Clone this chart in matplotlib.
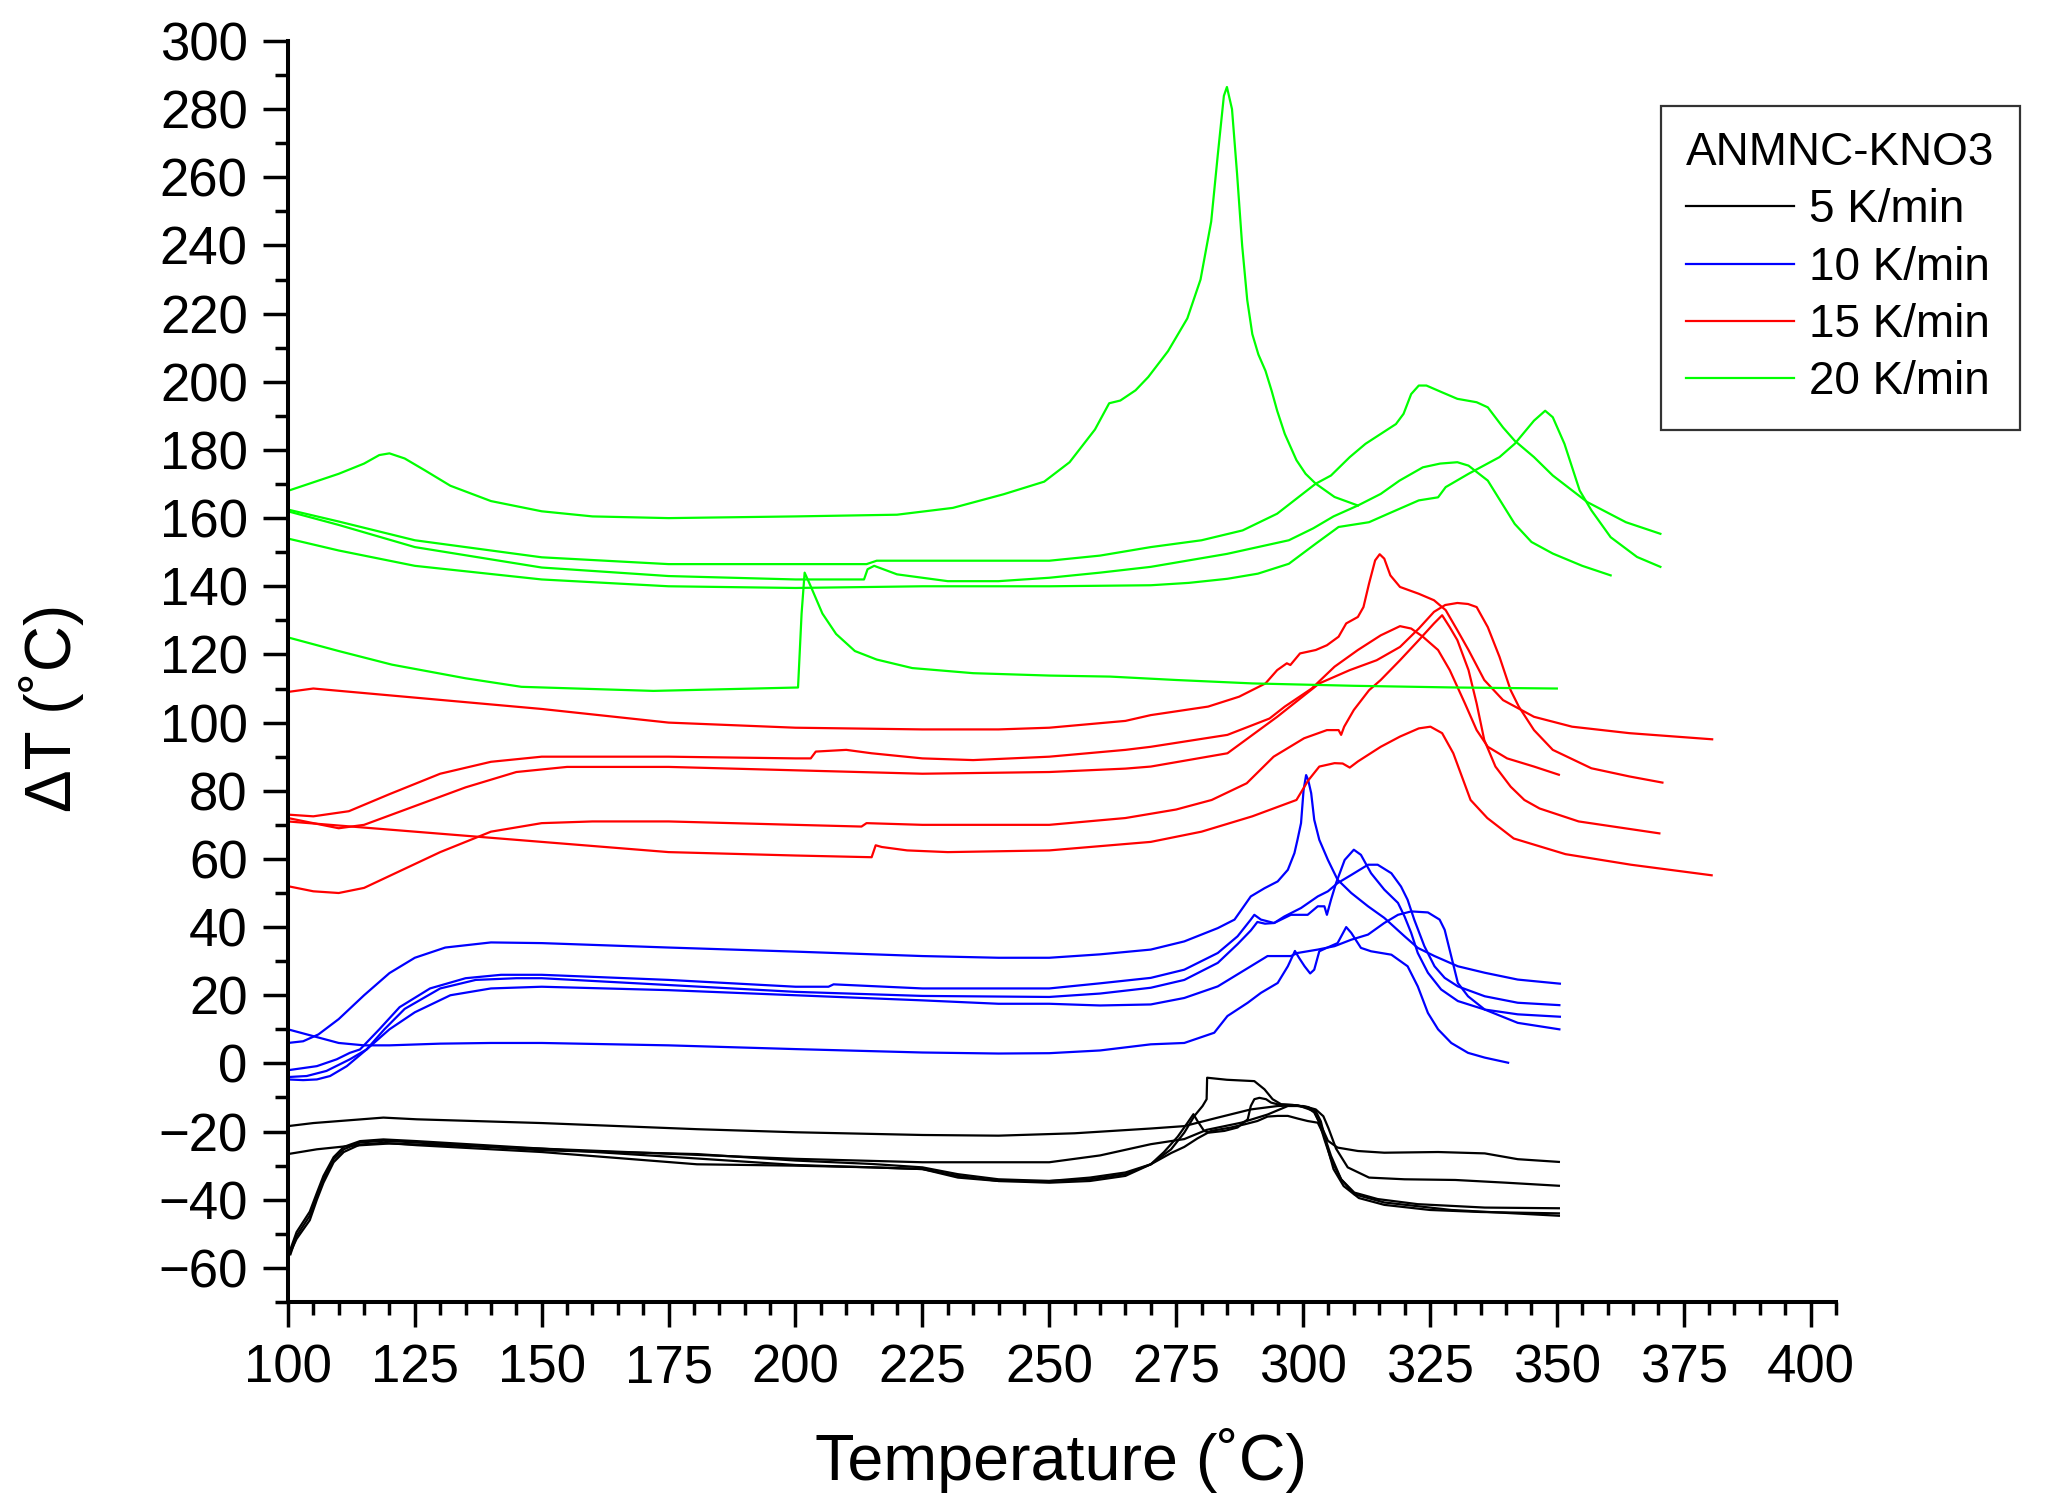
import matplotlib
matplotlib.use("Agg")
import matplotlib.pyplot as plt
from matplotlib.ticker import MultipleLocator

plt.rcParams['font.family'] = ['Liberation Sans', 'DejaVu Sans']

# ---- 20 K/min (green) ----
g1_t = [100, 105, 110, 115, 118, 120, 123, 127, 132, 140, 150, 160, 175, 200, 220, 231, 241, 249, 254,
        259, 261.8, 264, 267, 269.5, 273.4, 277.2, 279.8, 281.9, 283.2, 284.4, 285, 286, 287, 288, 289,
        290, 291.2, 292.6, 293.8, 294.9, 296.4, 298.7, 300.5, 302.5, 306.2, 310.8]
g1_v = [168, 170.5, 173, 176, 178.5, 179, 177.5, 174, 169.5, 165, 162, 160.5, 160, 160.5, 161, 163, 167,
        170.7, 176.4, 186, 193.7, 194.5, 197.5, 201.4, 209, 218.6, 230, 247, 266.6, 283.9, 286.5, 280,
        261, 240, 224, 214, 208, 203.2, 197.4, 191.5, 184.7, 177, 173, 170.1, 166.2, 163.7]

g2_t = [100, 110, 125, 150, 175, 200, 214, 216, 250, 260, 270, 280, 288.1, 294.9, 302.5, 305.5, 309.2,
        312.3, 315.3, 318.3, 319.8, 321.3, 322.8, 324.3, 327.4, 330.4, 334.2, 336.4, 339.4, 341.7, 345.5,
        349.2, 356, 363.6, 370.4]
g2_v = [162.5, 159, 153.5, 148.5, 146.5, 146.5, 146.5, 147.5, 147.5, 149, 151.5, 153.5, 156.4, 161.3,
        170.1, 172.5, 177.9, 181.8, 184.7, 187.6, 190.6, 196.4, 198.9, 198.9, 196.9, 195, 194, 192.5,
        186.6, 182.7, 177.9, 172.5, 164.7, 158.8, 155.4]

g3_t = [100, 110, 125, 150, 175, 200, 213.5, 214.2, 215.5, 220, 230, 240, 250, 260, 270, 285, 297.2,
        302, 306, 310.8, 315.3, 319, 323.6, 327, 330.4, 332.6, 336.4, 341.7, 345, 349.2, 355, 360.6]
g3_v = [162, 158, 151.5, 145.5, 143, 142, 142, 145, 146, 143.5, 141.5, 141.5, 142.5, 144, 145.7, 149.5,
        153.5, 157, 160.5, 163.7, 167.1, 171, 174.9, 176, 176.4, 175.4, 171, 158.3, 153, 149.6, 146, 143.2]

g4_t = [100, 110, 125, 150, 175, 200, 225, 250, 270, 277.5, 285.1, 291.1, 297.2, 302.5, 307, 313, 316.8,
        322.8, 326.6, 328.1, 332.6, 338.7, 341.7, 345.5, 347.7, 349.2, 351.5, 354.5, 356.8, 360.6, 365.8,
        370.4]
g4_v = [154, 150.5, 146, 142, 140, 139.5, 140, 140, 140.3, 141, 142.2, 143.7, 146.6, 152.5, 157.4, 158.8,
        161.3, 165.2, 166.1, 169.1, 173, 177.9, 181.8, 188.6, 191.5, 189.6, 181.8, 168.1, 162.3, 154.4,
        148.6, 145.7]

g5_t = [100, 110, 120.5, 135, 146, 172, 200.5, 201.2, 201.8, 203, 205.3, 208, 211.7, 216, 223, 235, 250,
        262, 275, 290, 310, 330, 350]
g5_v = [125, 121, 117, 113, 110.5, 109.3, 110.3, 132, 144, 140, 132, 126, 121, 118.5, 116, 114.5, 113.8,
        113.5, 112.5, 111.5, 110.8, 110.3, 110]

# ---- 15 K/min (red) ----
r1_t = [100, 105, 120, 150, 175, 200, 225, 240, 250, 265, 270, 281.3, 287.4, 292.6, 294.9, 296.8, 297.5,
        299.4, 302.5, 304.7, 307, 308.5, 310.8, 311.9, 313, 314.2, 315.1, 316, 317.2, 319.1, 322.8, 325.8,
        328.1, 330.4, 332.6, 335.7, 339.4, 345.5, 353, 364.3, 380.6]
r1_v = [109, 110, 108, 104, 100, 98.5, 98, 98, 98.5, 100.5, 102.2, 104.7, 107.6, 111.5, 115.4, 117.4,
        116.9, 120.3, 121.3, 122.7, 125.2, 129.1, 131, 133.9, 140.8, 147.6, 149.4, 148.1, 143.2, 139.8,
        137.8, 135.9, 133, 127.1, 121.3, 112.5, 106.6, 101.7, 98.8, 96.9, 95.1]

r2_t = [100, 105, 112, 120, 130, 140, 150, 175, 200, 203, 204, 210, 215, 225, 235, 250, 265, 270, 285.1,
        293.4, 296.4, 301.7, 306.2, 310.8, 315.3, 319.1, 321.3, 323.6, 326.6, 328.9, 331.9, 334.2, 336.4,
        340.2, 345.5, 350.4]
r2_v = [73, 72.5, 74, 79, 85, 88.5, 90, 90, 89.5, 89.5, 91.5, 92, 91, 89.5, 89, 90, 92, 92.9, 96.4, 101.2,
        104.7, 110, 116.4, 121.3, 125.6, 128.3, 127.6, 125.2, 121.3, 115.4, 105.6, 97.8, 92.9, 89.5, 87.1,
        84.7]

r3_t = [100, 110, 115, 125, 135, 145, 155, 175, 200, 225, 250, 265, 270, 285.1, 294.9, 303.2, 309.2,
        314.5, 319.1, 322.8, 325.8, 328, 330.4, 332.5, 334.2, 336.4, 338.7, 340.9, 342.5, 345.5, 349.2,
        356.8, 364.3, 370.8]
r3_v = [72, 69, 70, 75.5, 81, 85.5, 87, 87, 86, 85, 85.5, 86.5, 87.1, 91, 101.7, 111.5, 115.4, 118.3,
        122.2, 127.6, 132.5, 134.5, 135.1, 134.8, 133.9, 128, 119.3, 109.5, 104.7, 97.8, 92, 86.6, 84.2,
        82.4]

r4_t = [100, 125, 150, 175, 200, 215, 215.8, 217, 222, 230, 250, 270, 280, 290, 298.7, 301, 303.2, 306.2,
        307.8, 309.2, 310.8, 315.3, 319.1, 322.8, 325.1, 327.4, 329.6, 333, 336.3, 341.5, 351.7, 364.6,
        380.5]
r4_v = [71, 68, 65, 62, 61, 60.5, 64, 63.5, 62.5, 62, 62.5, 65, 68, 72.5, 77.3, 83, 87.1, 88.1, 88, 86.8,
        88.6, 92.9, 95.9, 98.3, 98.8, 96.9, 91, 77.3, 72, 66, 61.4, 58.3, 55.2]

r5_t = [100, 105, 110, 115, 120, 130, 140, 150, 160, 175, 200, 213, 214, 225, 250, 265, 275, 282, 288.9,
        294.2, 300.2, 304.7, 307, 307.5, 308.1, 310, 313, 315.3, 319.1, 322.8, 325.8, 327.4, 328.9, 330.4,
        332.6, 334.2, 335.7, 337.9, 340.9, 343.6, 346.6, 354.3, 370.2]
r5_v = [52, 50.5, 50, 51.5, 55, 62, 68, 70.5, 71, 71, 70, 69.5, 70.5, 70, 70, 72, 74.5, 77.3, 82.2, 90,
        95.4, 97.8, 97.8, 96.4, 98.8, 103.7, 109.5, 112.5, 118.3, 124.2, 129.1, 131.5, 128, 124.2, 115.4,
        105.6, 94.9, 87.1, 81.2, 77.3, 74.8, 71, 67.5]

# ---- 10 K/min (blue) ----
b1_t = [100, 105, 110, 115, 120, 130, 140, 150, 175, 200, 225, 240, 250, 260, 270, 276.6, 282.5, 285.1,
        289.1, 291.7, 295, 297, 298.4, 299.2, 300.3, 301.4, 302.2, 303.2, 304.5, 306.8, 308.5, 309.5, 311.4,
        313.4, 317.4, 320.6, 322.6, 324.6, 326.6, 329.2, 332.5, 335.8, 340.4]
b1_v = [10, 8, 6, 5.3, 5.3, 5.8, 6, 6, 5.3, 4.2, 3.2, 2.9, 3, 3.8, 5.6, 6, 9, 13.9, 17.8, 20.7, 23.6, 28.5,
        33, 31, 28.5, 26.4, 27.5, 32.9, 33.8, 35.3, 40, 38.3, 33.9, 32.9, 31.9, 28.5, 22.6, 14.8, 10, 6,
        3.1, 1.7, 0.2]

b2_t = [100, 103, 106, 110, 115, 120, 125, 131, 140, 150, 175, 200, 225, 240, 250, 260, 270, 276.6, 283.2,
        286.5, 289.7, 292.4, 295, 297, 298.3, 298.9, 299.6, 300.1, 300.6, 301, 301.6, 302.2, 303.2, 304.9,
        306.8, 309.5, 312.8, 316, 320, 322.6, 325.9, 330.5, 335.8, 342.3, 350.6]
b2_v = [6, 6.5, 8.5, 13, 20, 26.5, 31, 34, 35.5, 35.3, 34, 32.8, 31.5, 31, 31, 32, 33.4, 35.8, 39.7, 42.2,
        49, 51.4, 53.4, 56.8, 61.7, 65.6, 70.5, 80.2, 84.6, 83.2, 79.3, 71.5, 65.6, 59.7, 53.9, 50, 46.1,
        42.7, 37.3, 33.9, 31.5, 28.5, 26.6, 24.6, 23.4]

b3_t = [100, 105.7, 109.6, 112.2, 114.2, 118, 122, 128, 135, 142, 150, 175, 200, 206.5, 207.5, 225, 250,
        260, 270, 276.6, 283.2, 287.1, 289.7, 290.4, 291.7, 294.3, 296.3, 299.6, 302.9, 304.9, 306.8,
        309.5, 312.8, 314.7, 317.4, 319.3, 320.6, 321.9, 323.9, 325.9, 327.9, 330.5, 335.8, 342.3, 350.5]
b3_v = [-2, -0.8, 1.2, 3.1, 4.1, 10, 16.5, 22, 25, 26, 26, 24.5, 22.5, 22.5, 23.2, 22, 22, 23.5, 25.1,
        27.5, 32.4, 37.3, 42.2, 43.6, 42.2, 41.2, 43.1, 45.6, 49, 50.5, 52.9, 55.3, 58.3, 58.3, 55.8, 51.9,
        48, 42.2, 34.4, 28.5, 25.1, 22.6, 19.7, 17.8, 17.1]

b4_t = [100, 103.7, 107.6, 112.2, 115.5, 119, 123, 130, 137, 145, 150, 175, 200, 225, 250, 260, 270,
        276.6, 283.2, 287.1, 289.7, 291, 292.5, 294.3, 297.6, 300.9, 302.9, 304.2, 304.7, 305.5, 306.5,
        308.2, 310, 311.4, 313.4, 316, 318.7, 320, 321.3, 322.6, 324.6, 327.2, 330.5, 335.8, 342.3, 350.6]
b4_v = [-4, -3.7, -2.2, 1.2, 4.1, 10, 16, 22, 24.5, 25, 25, 23, 21, 19.8, 19.5, 20.5, 22.2, 24.5, 29.5,
        35, 39, 41.5, 41, 41.2, 43.6, 43.6, 46.1, 46.1, 43.6, 48, 52.9, 59.7, 62.7, 61.2, 55.8, 51, 47.1,
        43.1, 38.3, 32.4, 26.6, 21.7, 18.3, 15.8, 14.4, 13.7]

b5_t = [100, 103, 105.7, 108.3, 111.6, 115.5, 120, 125, 132, 140, 150, 175, 200, 225, 240, 250, 260, 270,
        276.6, 283.2, 289.7, 293, 297.6, 298.9, 302.9, 306.2, 309.5, 312.8, 316, 318.7, 321.3, 324.6,
        326.9, 327.9, 329.2, 330.5, 332.5, 335.8, 342.3, 350.5]
b5_v = [-4.7, -4.9, -4.7, -3.7, -0.8, 4.1, 10, 15, 20, 22, 22.5, 21.5, 20, 18.5, 17.5, 17.5, 17, 17.3,
        19.2, 22.6, 28.5, 31.5, 31.5, 32.4, 33.4, 34.4, 36.3, 37.8, 41.2, 43.6, 44.6, 44.3, 42.2, 39.2,
        31.4, 23.6, 19.7, 15.8, 11.9, 10]

# ---- 5 K/min (black) ----
k1_t = [100, 105, 118.8, 125.4, 150, 180.6, 200, 225, 240, 255, 270, 276.6, 283.2, 289.7, 295, 298.3,
        300.9, 302.2, 303.6, 304.9, 306.8, 310.8, 316, 326.6, 335.8, 342.3, 350.4]
k1_v = [-18.4, -17.5, -15.9, -16.4, -17.5, -19.3, -20.2, -21, -21.2, -20.5, -19.1, -18.4, -15.9, -13.5,
        -12.5, -12.3, -13, -14.4, -18.4, -22.7, -24.7, -25.7, -26.2, -26, -26.4, -28.1, -28.9]

k2_t = [100, 105.7, 112.2, 120, 150, 175, 200, 225, 250, 260, 270, 276.6, 281, 287.8, 293, 297, 300,
        302.5, 304, 305, 306.5, 308.8, 313, 320, 330, 340, 350.4]
k2_v = [-26.6, -25.2, -24.2, -23.5, -25, -26.5, -28, -29, -29, -27, -23.7, -22.2, -19.5, -17.4, -15,
        -12.5, -12.5, -13.5, -15.5, -19, -25, -30.5, -33.5, -34, -34.2, -35, -35.9]

k3_t = [100.5, 101.7, 104.3, 105.7, 107, 109, 111, 114.2, 118.8, 125.4, 150, 180.6, 200, 215, 225, 232,
        240, 250, 258, 265, 270, 274, 276.6, 278.6, 280.2, 281, 281.1, 285, 290.4, 292.4, 294, 295.7, 299,
        302.2, 303.2, 304.2, 305.5, 307.5, 310.1, 314.7, 322.6, 335.8, 350.4]
k3_v = [-56, -50.6, -44.7, -38.9, -34, -28.1, -25.2, -23.2, -22.7, -23.2, -25.5, -26.6, -28.5, -29.5,
        -30.5, -32.5, -34, -34.5, -34, -32.5, -29.6, -25.2, -20.3, -15.4, -12.5, -10.5, -4.2, -4.8, -5.2,
        -7.6, -10.5, -12, -12.3, -14, -17.4, -22.3, -28.1, -34, -37.9, -39.8, -41.3, -42.3, -42.5]

k4_t = [100.5, 101.7, 104.3, 105.7, 107, 109, 111, 114.2, 118.8, 125.4, 150, 180.6, 200, 215, 225, 232,
        240, 250, 258, 265, 270, 272.6, 275.3, 277.2, 278.4, 279.2, 280.5, 281.5, 284.5, 287.1, 289.1,
        289.7, 290.4, 291.4, 292.7, 293.7, 295, 298, 301, 302.5, 303.5, 304.5, 306, 308, 311, 316, 325,
        335, 350.4]
k4_v = [-54.5, -49.5, -43.5, -38, -33, -27.5, -24.5, -22.8, -22.3, -22.8, -25, -27.9, -29.8, -30.5, -31,
        -33, -34.5, -35, -34.5, -33, -29.6, -26, -21.5, -17.5, -14.9, -16.9, -19.8, -20.3, -19.8, -18.8,
        -16.4, -12.5, -10.5, -10.1, -10.5, -11.5, -12, -12.2, -12.8, -14, -17, -23, -31, -36, -39.5,
        -41.5, -43, -43.6, -44]

k5_t = [100, 101.7, 104.3, 105.7, 107, 109, 111, 114.2, 118.8, 125.4, 150, 180.6, 200, 215, 225, 232,
        240, 250, 258, 265, 270, 274, 276.6, 279.2, 281.9, 285.8, 288.4, 291, 293, 295, 297, 299, 300.9,
        302.9, 304.2, 305.5, 307.5, 310.1, 316, 329.2, 350.4]
k5_v = [-57, -51.5, -46, -40, -35, -29, -26, -23.8, -23.3, -24, -26, -29.6, -30, -30.5, -31, -33.5,
        -34.5, -34.5, -33.5, -32, -29.6, -26.3, -24.5, -22, -19.8, -18.8, -17.9, -16.9, -15.6, -15.4,
        -15.4, -16.2, -16.9, -17.4, -21.3, -27.1, -34, -38.4, -40.8, -43, -44.7]

groups = [
    ("5 K/min", "black", [(k1_t, k1_v), (k2_t, k2_v), (k3_t, k3_v), (k4_t, k4_v), (k5_t, k5_v)]),
    ("10 K/min", "#0000ff", [(b1_t, b1_v), (b2_t, b2_v), (b3_t, b3_v), (b4_t, b4_v), (b5_t, b5_v)]),
    ("15 K/min", "#ff0000", [(r1_t, r1_v), (r2_t, r2_v), (r3_t, r3_v), (r4_t, r4_v), (r5_t, r5_v)]),
    ("20 K/min", "#00ff00", [(g1_t, g1_v), (g2_t, g2_v), (g3_t, g3_v), (g4_t, g4_v), (g5_t, g5_v)]),
]

fig = plt.figure(figsize=(20.45, 15.12), dpi=100)
ax = fig.add_axes([0.1408, 0.1389, 0.7570, 0.8340])

for name, col, curves in groups:
    for i, (t, v) in enumerate(curves):
        ax.plot(t, v, color=col, lw=1.6, label=name if i == 0 else "_nolegend_")

ax.set_xlim(100, 405)
ax.set_ylim(-70, 300)
ax.set_xticks(range(100, 401, 25))
ax.set_yticks(range(-60, 301, 20))
ax.xaxis.set_minor_locator(MultipleLocator(5))
ax.yaxis.set_minor_locator(MultipleLocator(10))

for s in ["top", "right"]:
    ax.spines[s].set_visible(False)
for s in ["left", "bottom"]:
    ax.spines[s].set_linewidth(2.9)

ax.tick_params(which="major", direction="out", length=18, width=2.5, labelsize=38)
ax.tick_params(which="minor", direction="out", length=9.4, width=2.5)
ax.tick_params(axis="x", which="major", pad=12)
ax.tick_params(axis="y", which="major", pad=11)

fig.text(0.519, 0.0212, "Temperature (˚C)", fontsize=46.5, ha="center", va="baseline")
fig.text(0.0252, 0.5321, "ΔT (˚C)", fontsize=46, rotation=90, ha="center", va="center")

leg = ax.legend(title="ANMNC-KNO3", loc="upper left", bbox_to_anchor=(0.8122, 0.9299),
                bbox_transform=fig.transFigure, fontsize=33, title_fontsize=33,
                frameon=True, fancybox=False, edgecolor="black", borderpad=0.55,
                borderaxespad=0, labelspacing=0.29, handlelength=2.36, handletextpad=0.32,
                alignment="left")
leg.get_frame().set_linewidth(1.6)
for h in leg.get_lines():
    h.set_linewidth(1.6)

fig.savefig("out.png", dpi=100)
